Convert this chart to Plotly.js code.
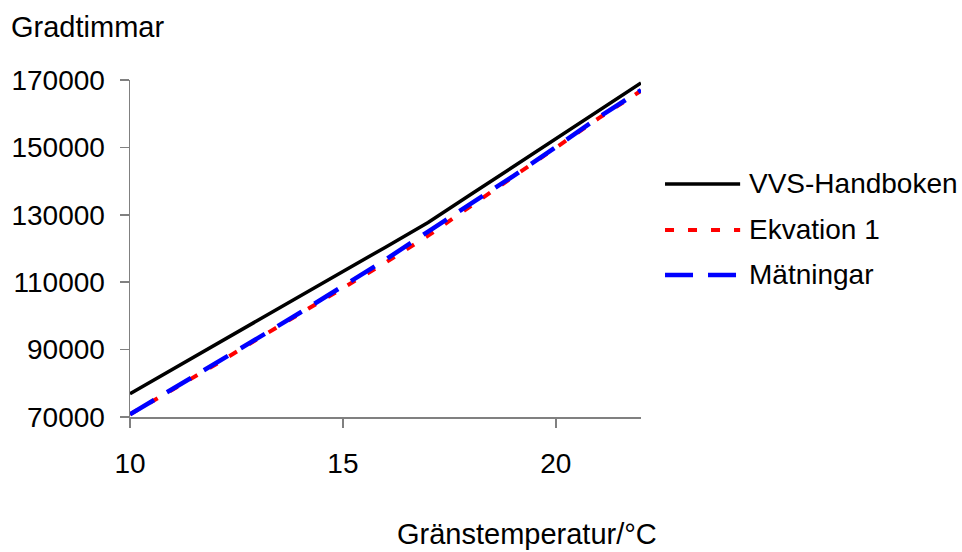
<!DOCTYPE html>
<html>
<head>
<meta charset="utf-8">
<script src="https://cdn.plot.ly/plotly-3.0.1.min.js"></script>
<style>
  html, body { margin: 0; padding: 0; background: #ffffff; }
  #chart { width: 962px; height: 552px; }
</style>
</head>
<body>
<div id="chart"></div>
<script>
// Gränstemperatur (°C)
const temps = [10, 11, 12, 13, 14, 15, 16, 17, 18, 19, 20, 21, 22];
// Gradtimmar
const vvsHandboken = [76900, 84200, 91400, 98700, 105900, 113200, 120400, 127700, 136000, 144300, 152500, 160800, 169100];
const ekvation1   = [70800, 78000, 85500, 93200, 100700, 108200, 115800, 123800, 132700, 141300, 149900, 158600, 166800];
const matningar   = [70800, 78300, 85600, 93400, 101000, 108800, 116700, 125000, 133100, 141500, 150100, 158900, 167000];

const seriesNames = ['VVS-Handboken', 'Ekvation 1', 'Mätningar'];
const yTicks = [70000, 90000, 110000, 130000, 150000, 170000];
const xTicks = [10, 15, 20];

const FONT = 'Liberation Sans, Arial, sans-serif';
const styles = [
  { color: '#000000', width: 3.5, dash: 'solid' },
  { color: '#ff0000', width: 4, dash: '9px,14px' },
  { color: '#0000ff', width: 4.5, dash: '28px,15px' }
];
const seriesData = [vvsHandboken, ekvation1, matningar];

const traces = seriesData.map((ys, i) => ({
  x: temps,
  y: ys,
  type: 'scatter',
  mode: 'lines',
  name: seriesNames[i],
  line: { color: styles[i].color, width: styles[i].width, dash: styles[i].dash },
  showlegend: false,
  hoverinfo: 'x+y+name'
}));

// custom legend with long line samples (as in the reference)
const legY = [0.6914, 0.5549, 0.4214];
const shapes = [];
const annotations = [];
for (let i = 0; i < 3; i++) {
  shapes.push({
    type: 'line', xref: 'paper', yref: 'paper',
    x0: 1.047, x1: 1.194, y0: legY[i], y1: legY[i],
    line: { color: styles[i].color, width: styles[i].width, dash: styles[i].dash }
  });
  annotations.push({
    xref: 'paper', yref: 'paper', x: 1.208, y: legY[i],
    xanchor: 'left', yanchor: 'middle', showarrow: false,
    text: seriesNames[i], font: { family: FONT, size: 28, color: '#000000' }
  });
}
annotations.push({
  xref: 'paper', yref: 'paper', x: 0.777, y: -0.347,
  xanchor: 'center', yanchor: 'middle', showarrow: false,
  text: 'Gränstemperatur/°C', font: { family: FONT, size: 29, color: '#000000' }
});

const layout = {
  width: 962, height: 552,
  paper_bgcolor: '#ffffff', plot_bgcolor: '#ffffff',
  margin: { l: 130, r: 321, t: 80, b: 135, pad: 0 },
  font: { family: FONT, size: 28, color: '#000000' },
  title: {
    text: 'Gradtimmar', xref: 'container', yref: 'container',
    x: 11 / 962, xanchor: 'left', y: 1 - 27 / 552, yanchor: 'middle',
    font: { family: FONT, size: 29, color: '#000000' }
  },
  xaxis: {
    range: [10, 22], tickvals: xTicks, ticktext: xTicks.map(String),
    showgrid: false, zeroline: false,
    showline: true, linecolor: '#808080', linewidth: 1.5,
    ticks: 'outside', ticklen: 9, tickwidth: 1.5, tickcolor: '#808080',
    ticklabelstandoff: 12,
    tickfont: { family: FONT, size: 28, color: '#000000' }
  },
  yaxis: {
    range: [70000, 170000], tickvals: yTicks, ticktext: yTicks.map(String),
    showgrid: false, zeroline: false,
    showline: true, linecolor: '#808080', linewidth: 1.5,
    ticks: 'outside', ticklen: 9, tickwidth: 1.5, tickcolor: '#808080',
    ticklabelstandoff: 9,
    tickfont: { family: FONT, size: 28, color: '#000000' }
  },
  shapes: shapes,
  annotations: annotations,
  showlegend: false
};

Plotly.newPlot('chart', traces, layout, { staticPlot: true, displayModeBar: false });
</script>
</body>
</html>
